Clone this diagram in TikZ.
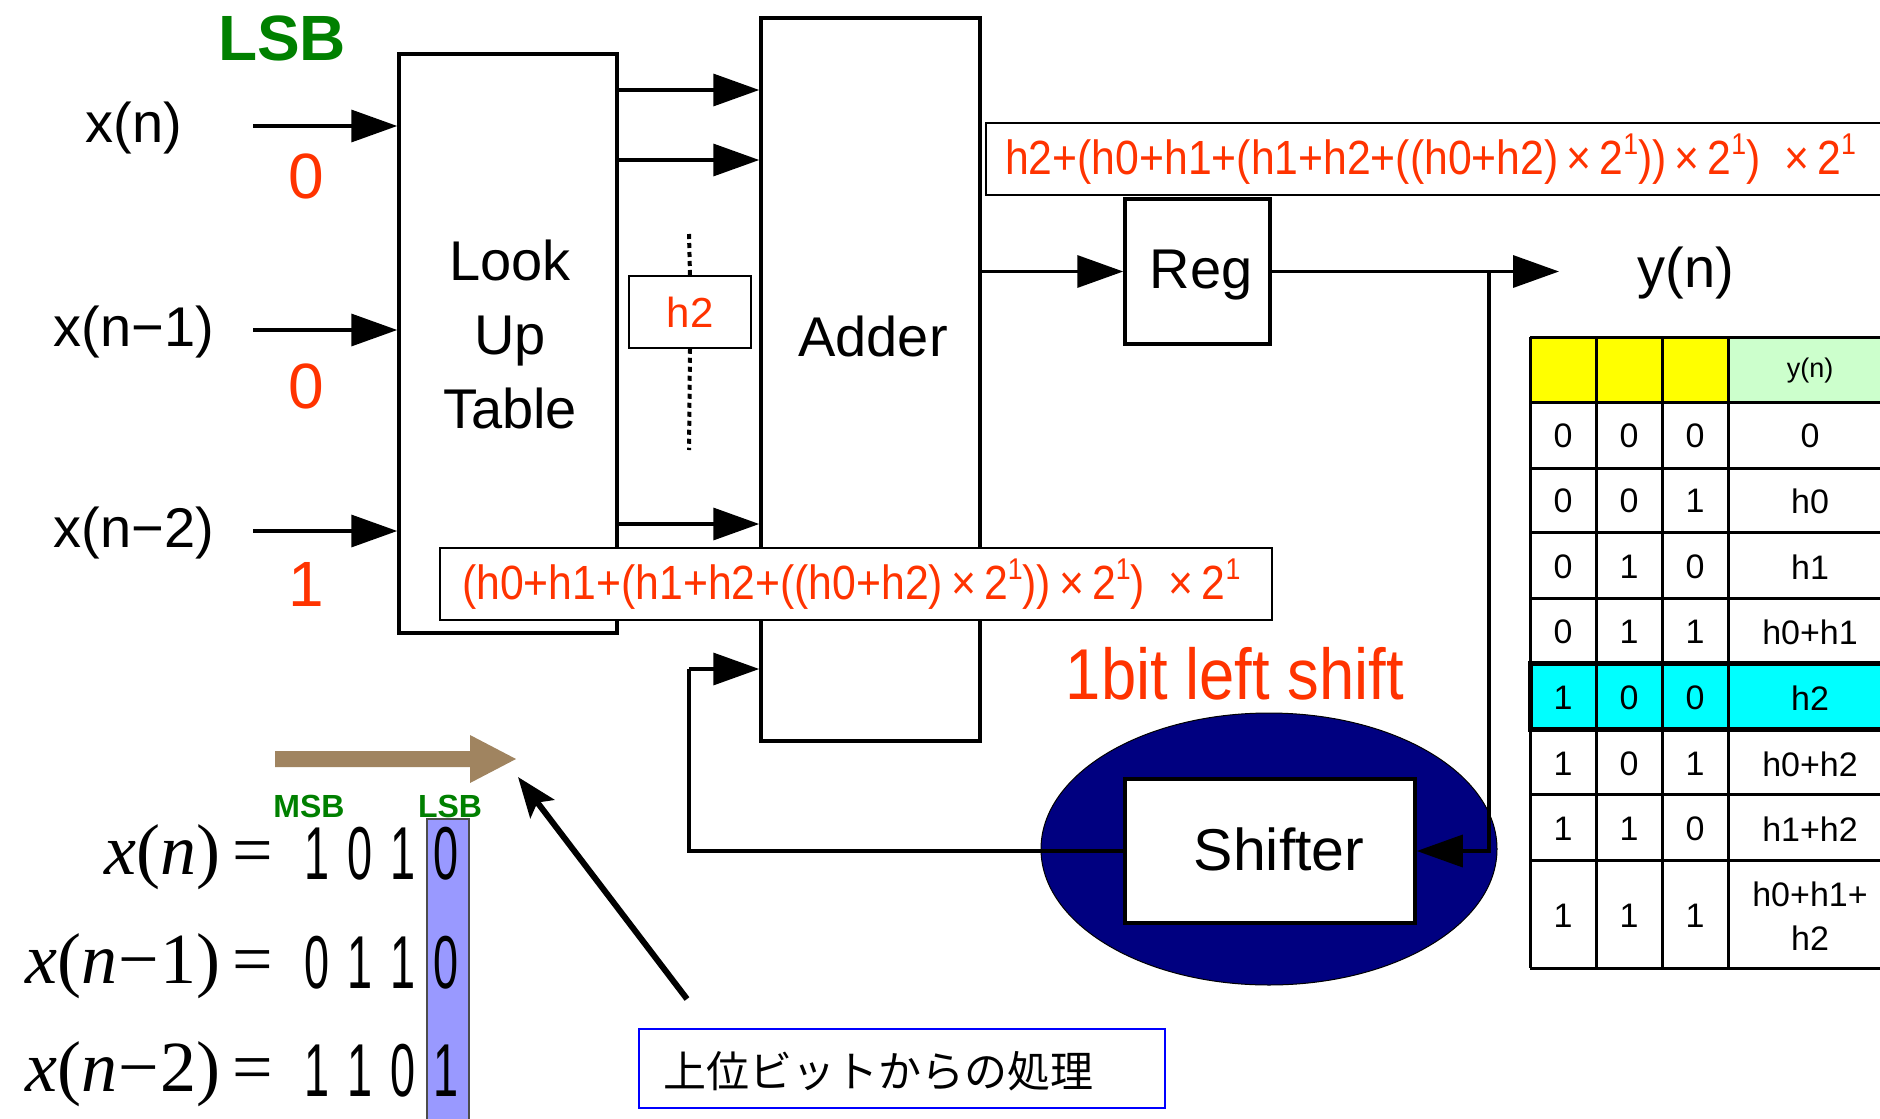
\documentclass[tikz,border=0pt]{standalone}
\usepackage{fontspec}
\setmainfont{Liberation Sans}
\newfontfamily\formfont[FakeStretch=0.89]{Liberation Sans}
\newfontfamily\slimfont[FakeStretch=0.88]{Liberation Sans}
\newfontfamily\bitfont[FakeStretch=0.6]{Liberation Sans}
\newfontfamily\timesfont{Liberation Serif}
\newfontfamily\jpfont{Noto Sans CJK JP}
\usetikzlibrary{arrows.meta,shapes.geometric}

\definecolor{rd}{RGB}{255,51,0}
\definecolor{gr}{RGB}{0,128,0}
\definecolor{navyfill}{RGB}{0,0,128}
\definecolor{lav}{RGB}{153,153,255}
\definecolor{bronze}{RGB}{160,132,96}
\definecolor{mint}{RGB}{204,255,204}
\definecolor{hilite}{RGB}{0,255,255}
\definecolor{hdr}{RGB}{255,255,0}

\newcommand\fsz[1]{\fontsize{#1}{#1}\selectfont}
\newcommand\one{\raisebox{0.42em}{\fontsize{30}{30}\selectfont 1}}
\newcommand\accum{(h0+h1+(h1+h2+((h0+h2)\,×\,2\one))\,×\,2\one)\enspace×\,2\one}

\begin{document}
\begin{tikzpicture}[x=1pt,y=-1pt,
  blk/.style={draw,line width=3.5pt,fill=white,inner sep=0pt},
  wire/.style={line width=3.5pt},
  arr/.style={line width=3.5pt,-{Triangle[length=46pt,width=32pt]}},
  lbl/.style={font=\fsz{56},inner sep=0pt},
  bitval/.style={font=\fsz{64},text=rd,inner sep=0pt},
  formbox/.style={draw,line width=2pt,fill=white,inner sep=0pt},
  formtxt/.style={font=\formfont\fsz{48},text=rd,inner sep=0pt,anchor=west},
  cell/.style={font=\fsz{34},inner sep=0pt},
  eqn/.style={font=\timesfont\fsz{72},inner sep=0pt,anchor=base east},
  digits/.style={font=\bitfont\fsz{75},inner sep=0pt},
  tag/.style={font=\bfseries\fsz{32},text=gr,inner sep=0pt}]
\useasboundingbox (0,0) rectangle (1880,1119);
\clip (0,0) rectangle (1880,1119);

% ---------- inputs and look-up table ----------
\node[font=\bfseries\fsz{64},text=gr,inner sep=0pt] (lsbtop) at (282,38) {LSB};
\node[blk,minimum width=218pt,minimum height=579pt] (lut) at (508,343.5) {};
\node[align=center,font=\fontsize{56}{74}\selectfont,inner sep=0pt] (luttxt) at (510,334) {Look\\Up\\Table};

\node[lbl] (xn)  at (134,128) {x(n)};
\node[lbl] (xn1) at (134,332) {x(n−1)};
\node[lbl] (xn2) at (134,533) {x(n−2)};
\coordinate (i0) at (253,126);
\coordinate (i1) at (253,330);
\coordinate (i2) at (253,531);
\draw[arr] (i0) -- (i0 -| lut.west);
\draw[arr] (i1) -- (i1 -| lut.west);
\draw[arr] (i2) -- (i2 -| lut.west);
\node[bitval] (b0) at (306,176) {0};
\node[bitval] (b1) at (306,386) {0};
\node[bitval] (b2) at (306,584) {1};

% ---------- adder ----------
\node[blk,minimum width=219pt,minimum height=723pt] (adder) at (870.5,379.5) {};
\node[lbl] (addertxt) at (873,336) {Adder};
\coordinate (p0) at (700,90);
\coordinate (p1) at (700,160);
\coordinate (p2) at (700,524);
\draw[arr] (lut.east |- p0) -- (adder.west |- p0);
\draw[arr] (lut.east |- p1) -- (adder.west |- p1);
\draw[arr] (lut.east |- p2) -- (adder.west |- p2);

% partial product h2 with dotted guide
\node[formbox,line width=1.5pt,minimum width=122pt,minimum height=72pt,
      font=\fsz{42},text=rd] (h2box) at (690,312) {h2};
\coordinate (dtop) at (689,234);
\coordinate (dbot) at (689,450);
\draw[line width=4pt,dash pattern=on 5pt off 4pt] (dtop) -- (h2box.north);
\draw[line width=4pt,dash pattern=on 5pt off 4pt] (h2box.south) -- (dbot);

% ---------- register and output ----------
\node[blk,minimum width=145pt,minimum height=145pt] (reg) at (1197.5,271.5) {};
\node[lbl] (regtxt) at (1201,275) {Reg};
\draw[arr] (adder.east |- reg.west) -- (reg.west);
\coordinate (jn) at (1489,271.5);
\coordinate (yout) at (1559,271.5);
\draw[wire] (reg.east) -- (jn);
\draw[arr] (jn) -- (yout);
\node[lbl] (yn) at (1686,273) {y(n)};

% ---------- shifter ----------
\node[draw,line width=1pt,fill=navyfill,minimum width=456pt,minimum height=272pt,
      ellipse,inner sep=0pt] (shell) at (1269,849) {};
\node[blk,minimum width=290pt,minimum height=144pt] (shifter) at (1270,851) {};
\node[font=\fsz{59},inner sep=0pt] (shiftertxt) at (1279,849) {Shifter};
\node[font=\slimfont\fsz{72},text=rd,inner sep=0pt] (shiftnote) at (1235,674) {1bit left shift};
\draw[arr] (jn) |- (shifter.east);
\coordinate (fb) at (689,669);
\draw[wire] (shifter.west) -| (fb);
\draw[arr] (fb) -- (adder.west |- fb);

% ---------- partial sums ----------
\path[formbox] (986,123) rectangle (1900,195);
\node[formtxt] (sumout) at (1005,159) {h2+\accum};
\node[formbox,minimum width=832pt,minimum height=72pt] (accbox) at (856,584) {};
\node[formtxt] (sumacc) at (462,584) {\accum};

% ---------- look-up table contents ----------
\fill[hdr] (1530,337) rectangle (1728,402);
\fill[mint] (1728,337) rectangle (1900,402);
\fill[hilite] (1530,663) rectangle (1900,729);
\foreach \gx in {1530,1596,1662,1728}
  \draw[line width=3pt] (\gx,337) -- (\gx,968);
\foreach \gy in {337,402,468,532,598,663,729,794,860,968}
  \draw[line width=3pt] (1530,\gy) -- (1900,\gy);
\draw[line width=5pt] (1530,663) rectangle (1900,729);
\node[font=\fsz{27},inner sep=0pt] (hdrtxt) at (1810,371) {y(n)};
\foreach \ry/\a/\b/\c/\d in {436/0/0/0/0, 501/0/0/1/h0, 567/0/1/0/h1, 632/0/1/1/h0+h1,
    698/1/0/0/h2, 764/1/0/1/h0+h2, 829/1/1/0/h1+h2}{
  \node[cell] at (1563,\ry) {\a};
  \node[cell] at (1629,\ry) {\b};
  \node[cell] at (1695,\ry) {\c};
  \node[cell] at (1810,\ry) {\d};
}
\node[cell] at (1563,916) {1};
\node[cell] at (1629,916) {1};
\node[cell] at (1695,916) {1};
\node[cell,align=center,font=\fontsize{34}{44}\selectfont] at (1810,916) {h0+h1+\\h2};

% ---------- bit-serial inputs ----------
\fill[bronze] (275,751) -- (470,751) -- (470,735) -- (516,759) -- (470,783) -- (470,767) -- (275,767) -- cycle;
\draw[line width=1.5pt,fill=lav,draw=black!70] (427,819) rectangle (469,1130);
\node[tag] (msb) at (309,806) {MSB};
\node[tag] (lsb) at (450,806) {LSB};

\node[eqn] (e0) at (273,874) {\itshape x\upshape(\itshape n\upshape)\,=};
\node[eqn] (e1) at (273,983) {\itshape x\upshape(\itshape n\upshape\kern1pt−\kern1pt1)\,=};
\node[eqn] (e2) at (273,1091) {\itshape x\upshape(\itshape n\upshape\kern1pt−\kern1pt2)\,=};
\foreach \r/\ry/\bits in {0/854/{1,0,1,0}, 1/963/{0,1,1,0}, 2/1071/{1,1,0,1}}{
  \foreach \bv [count=\k] in \bits
    \node[digits] at ({274+43*\k},\ry) {\bv};
}

% ---------- note ----------
\node[draw=blue,line width=2pt,minimum width=526pt,minimum height=79pt,inner sep=0pt] (note) at (902,1068.5) {};
\node[font=\jpfont\fsz{43},inner sep=0pt,anchor=west] (notetxt) at (663,1071) {上位ビットからの処理};
\coordinate (ptail) at (687,999);
\coordinate (phead) at (518,777);
\draw[line width=6pt,-{Stealth[length=40pt,width=30pt,inset=8pt]}] (ptail) -- (phead);
\end{tikzpicture}
\end{document}
